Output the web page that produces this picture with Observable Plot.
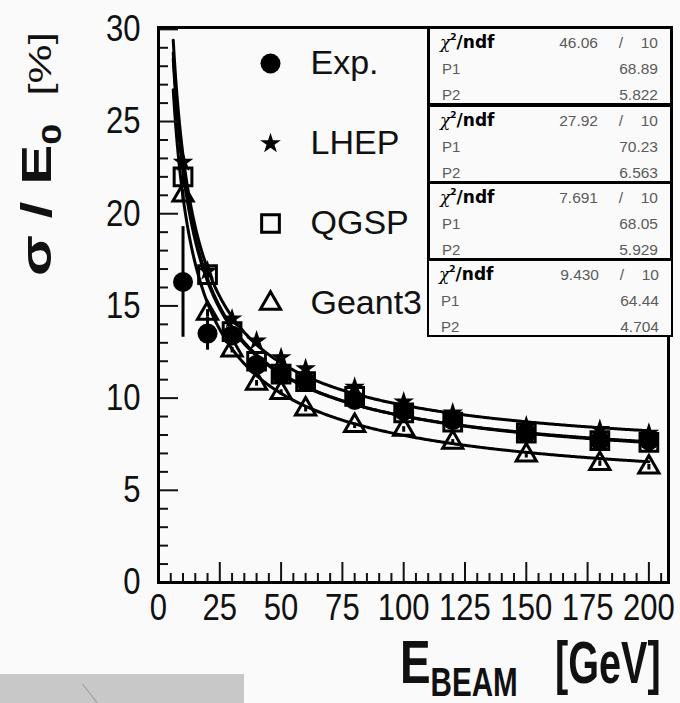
<!DOCTYPE html>
<html><head><meta charset="utf-8">
<script src="https://cdn.jsdelivr.net/npm/d3@7"></script>
<script src="https://cdn.jsdelivr.net/npm/@observablehq/plot@0.6"></script>
<style>
body{margin:0;background:#fafafa;}
#wrap{position:relative;width:680px;height:703px;overflow:hidden;font-family:"Liberation Sans",Arial,sans-serif;background:#fafafa;}
#chart svg{position:absolute;left:0;top:0;}
#stats{position:absolute;left:427px;top:26px;width:246px;height:312px;}
.box{position:absolute;left:0;width:246px;height:80px;box-sizing:border-box;border:3px solid #000;background:#fafafa;}
.box.last{border-width:2px;height:78px;}
.box span{position:absolute;white-space:nowrap;line-height:1;}
.chi{left:10px;top:4px;font-family:"DejaVu Sans",sans-serif;font-weight:bold;font-size:17px;color:#000;}
.chi i{font-family:"DejaVu Serif",serif;font-weight:normal;}
.chi sup{font-size:9px;vertical-align:8px;}
.num{font-size:15.5px;color:#5a5a5a;}
.lab{font-size:15px;color:#5a5a5a;left:12px;}
#ytitle{position:absolute;left:40px;top:154px;transform:translate(-50%,-50%) rotate(-90deg) scaleY(0.72);white-space:nowrap;color:#111;line-height:1;}
#ytitle b{font-size:60px;font-weight:bold;}
#ytitle b sub{font-size:38px;}
#ytitle span{font-size:44px;margin-left:28px;}
.xt{position:absolute;white-space:nowrap;color:#111;font-weight:bold;line-height:0.75;transform-origin:left top;}
#xe{left:400px;top:639px;font-size:62px;transform:scaleX(0.74);}
#xe sub{font-size:40px;line-height:0.75;}
#xu{left:555px;top:640px;font-size:60px;transform:scaleX(0.66);font-weight:bold;}
#grayrect{position:absolute;left:0;top:674px;width:244px;height:29px;background:#c8c8c8;overflow:hidden;}
#grayrect div{position:absolute;left:82px;top:10px;width:1px;height:26px;background:#9a9a9a;transform:rotate(-38deg);transform-origin:top;}
</style></head>
<body>
<div id="wrap">
  <div id="chart"></div>
  <div id="stats"></div>
  <div id="ytitle"><b>σ / E<sub>0</sub></b><span>[%]</span></div>
  <div id="xe" class="xt">E<sub>BEAM</sub></div>
  <div id="xu" class="xt">[GeV]</div>
  <div id="grayrect"><div></div></div>
</div>
<script>
// ---- data ----
const energies = [10, 20, 30, 40, 50, 60, 80, 100, 120, 150, 180, 200];
const expValues    = [16.3, 13.5, 13.4, 11.8, 11.3, 10.9, 9.9, 9.3, 8.8, 8.1, 7.7, 7.7];
const expErrors    = [3.0, 0.9, 0.4, 0.35, 0.3, 0.3, 0.3, 0.3, 0.3, 0.3, 0.3, 0.3];
const lhepValues   = [22.8, 16.9, 14.3, 13.1, 12.2, 11.6, 10.6, 9.8, 9.2, 8.5, 8.3, 8.1];
const qgspValues   = [22.0, 16.7, 13.6, 12.0, 11.3, 10.9, 10.1, 9.2, 8.7, 8.1, 7.7, 7.6];
const geant3Values = [21.0, 14.6, 12.6, 10.8, 10.3, 9.4, 8.5, 8.3, 7.6, 6.9, 6.45, 6.25];
const simErrors    = [0.3, 0.2, 0.15, 0.15, 0.15, 0.15, 0.15, 0.15, 0.15, 0.15, 0.15, 0.15];

const seriesNames   = ["Exp.", "LHEP", "QGSP", "Geant3"];
const seriesSymbols = ["circle", "star", "square", "triangle"];
const seriesValues  = [expValues, lhepValues, qgspValues, geant3Values];
const seriesErrors  = [expErrors, simErrors, simErrors, simErrors];

// fit results shown in the stat boxes: sigma/E = sqrt(P1^2/E + P2^2)
const fitP1 = [68.89, 70.23, 68.05, 64.44];
const fitP2 = [5.822, 6.563, 5.929, 4.704];
const fitChi2Text = ["46.06", "27.92", "7.691", "9.430"];
const fitNdfText  = ["10", "10", "10", "10"];
const fitP1Text   = ["68.89", "70.23", "68.05", "64.44"];
const fitP2Text   = ["5.822", "6.563", "5.929", "4.704"];
const fitRange = [6, 200];

const xTickValues  = [0, 25, 50, 75, 100, 125, 150, 175, 200];
const xMinorValues = [5,10,15,20,30,35,40,45,55,60,65,70,80,85,90,95,105,110,115,120,130,135,140,145,155,160,165,170,180,185,190,195,205];
const yTickValues  = [0, 5, 10, 15, 20, 25, 30];
const yMinorValues = [1,2,3,4,6,7,8,9,11,12,13,14,16,17,18,19,21,22,23,24,26,27,28,29];

// ---- tables ----
const points = seriesNames.flatMap((s, i) => energies.map((e, j) => ({
  series: s, E: e, v: seriesValues[i][j], err: seriesErrors[i][j]
})));
const fitEnergies = d3.range(fitRange[0], fitRange[1] + 0.001, 0.5);
const fitRows = seriesNames.flatMap((s, i) => fitEnergies.map(e => ({
  series: s, E: e, v: Math.sqrt(fitP1[i] * fitP1[i] / e + fitP2[i] * fitP2[i])
})));

const markerStyle = {
  circle:   {fill: "#000", stroke: "none", r: 10},
  star:     {fill: "#000", stroke: "none", r: 6.5},
  square:   {fill: "none", stroke: "#000", strokeWidth: 3, r: 10},
  triangle: {fill: "none", stroke: "#000", strokeWidth: 3, r: 7.5}
};

const tickFont = '"Liberation Sans",Arial,sans-serif';

const marks = [
  Plot.line(fitRows, {x: "E", y: "v", z: "series", stroke: "#000", strokeWidth: 3}),
  Plot.ruleX(points, {x: "E", y1: d => d.v - d.err, y2: d => d.v + d.err, stroke: "#000", strokeWidth: 3}),
];
seriesNames.forEach((s, i) => {
  const sym = seriesSymbols[i];
  marks.push(Plot.dot(points.filter(d => d.series === s), {x: "E", y: "v", symbol: sym, ...markerStyle[sym]}));
  // legend entries
  marks.push(Plot.dot([s], {frameAnchor: "top-left", dx: 112, dy: 36 + 80 * i, symbol: sym, ...markerStyle[sym]}));
  marks.push(Plot.text([s], {frameAnchor: "top-left", dx: 152, dy: 36 + 80 * i, text: d => d, textAnchor: "start",
    lineAnchor: "middle", fontSize: 34, fill: "#111"}));
});
marks.push(
  Plot.axisX(xTickValues, {anchor: "bottom", tickSize: 0, tickPadding: 11, fontSize: 37, fontFamily: tickFont, label: null, fill: "#111"}),
  Plot.axisX(xTickValues, {anchor: "bottom", tickSize: -20, text: null, label: null, strokeWidth: 2}),
  Plot.axisX(xMinorValues, {anchor: "bottom", tickSize: -9, text: null, label: null, strokeWidth: 2}),
  Plot.axisY(yTickValues, {anchor: "left", tickSize: 0, tickPadding: 18, fontSize: 37, fontFamily: tickFont, label: null, fill: "#111"}),
  Plot.axisY(yTickValues, {anchor: "left", tickSize: -20, text: null, label: null, strokeWidth: 2}),
  Plot.axisY(yMinorValues, {anchor: "left", tickSize: -10, text: null, label: null, strokeWidth: 2}),
  Plot.frame({stroke: "#000", strokeWidth: 3})
);

const chart = Plot.plot({
  width: 680, height: 703,
  marginLeft: 158, marginRight: 12, marginTop: 27, marginBottom: 121,
  style: {background: "transparent", fontFamily: '"Liberation Sans",Arial,sans-serif', color: "#111", overflow: "visible"},
  x: {domain: [0, 208], axis: null},
  y: {domain: [0, 30.1], axis: null},
  marks
});
document.getElementById("chart").appendChild(chart);

// narrow (condensed) tick labels, as in the reference
chart.querySelectorAll('g[aria-label$="tick label"] text').forEach(t => {
  const x = parseFloat(t.getAttribute("x") || 0);
  const tr = t.getAttribute("transform") || "";
  t.setAttribute("transform", `${tr} translate(${x},0) scale(0.84,1) translate(${-x},0)`);
});

// ---- fit statistics boxes ----
const stats = document.getElementById("stats");
seriesNames.forEach((s, i) => {
  const b = document.createElement("div");
  b.className = "box" + (i === seriesNames.length - 1 ? " last" : "");
  b.style.top = (i * 77.5) + "px";
  b.innerHTML =
    `<span class="chi"><i>χ</i><sup>2</sup>/ndf</span>` +
    `<span class="num" style="right:72px;top:6px">${fitChi2Text[i]}</span>` +
    `<span class="num" style="right:47px;top:6px">/</span>` +
    `<span class="num" style="right:12px;top:6px">${fitNdfText[i]}</span>` +
    `<span class="lab" style="top:32px">P1</span>` +
    `<span class="num" style="right:12px;top:32px">${fitP1Text[i]}</span>` +
    `<span class="lab" style="top:58px">P2</span>` +
    `<span class="num" style="right:12px;top:58px">${fitP2Text[i]}</span>`;
  stats.appendChild(b);
});
</script>
</body></html>
